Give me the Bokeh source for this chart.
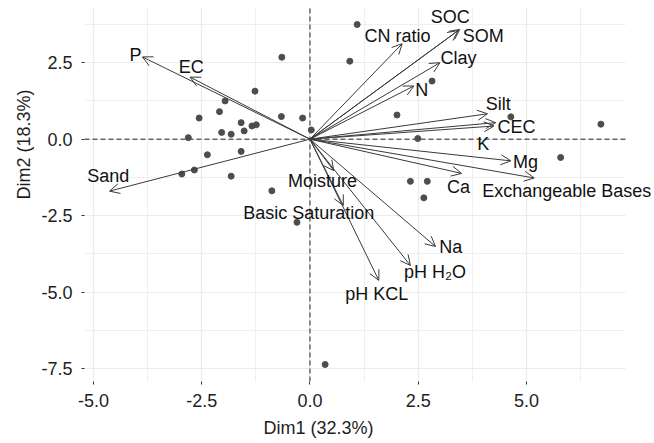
from bokeh.plotting import figure
from bokeh.models import (ColumnDataSource, Range1d, FixedTicker, Arrow, OpenHead,
                          LabelSet, Title, NumeralTickFormatter, Grid)
from bokeh.core.properties import value
from bokeh.embed import file_html
from bokeh.resources import INLINE

# ---- data ----
ind_x = [-0.65, -1.27, -1.96, -2.09, -2.56, -0.66, -0.17, -1.59, -1.34, -1.24, -1.52, -2.04,
         -1.82, -2.81, 0.03, -2.37, -1.59, -2.96, -2.67, -1.82, -0.88, -0.30, 0.35, 1.09,
         0.92, 2.82, 2.01, 4.64, 6.72, 2.49, 5.79, 2.32, 2.71, 2.63]
ind_y = [2.68, 1.57, 1.25, 0.90, 0.69, 0.74, 0.69, 0.54, 0.43, 0.47, 0.27, 0.22,
         0.16, 0.05, 0.30, -0.51, -0.40, -1.14, -1.01, -1.21, -1.69, -2.72, -7.37, 3.75,
         2.55, 1.90, 0.79, 0.73, 0.49, 0.02, -0.60, -1.38, -1.38, -1.92]

var_names = ["P", "EC", "Sand", "SOC", "SOM", "CN ratio", "Clay", "N", "Silt", "CEC", "K",
             "Mg", "Exchangeable Bases", "Ca", "Na", "pH H\u2082O", "pH KCL", "Moisture",
             "Basic Saturation"]
var_x = [-3.87, -2.77, -4.63, 3.46, 3.42, 2.13, 3.00, 2.40, 4.10, 4.29, 4.25,
         4.64, 5.18, 3.50, 2.90, 2.32, 1.59, 0.55, 0.77]
var_y = [2.69, 2.03, -1.70, 3.59, 3.55, 3.12, 2.50, 1.74, 0.83, 0.54, 0.43,
         -0.71, -1.27, -1.12, -3.51, -4.13, -4.62, -1.03, -2.17]
label_x = [-4.03, -2.74, -4.66, 3.24, 4.00, 2.02, 3.43, 2.58, 4.35, 4.77, 4.00,
           4.98, 5.93, 3.43, 3.25, 2.89, 1.54, 0.29, -0.03]
label_y = [2.76, 2.36, -1.22, 3.98, 3.37, 3.38, 2.65, 1.61, 1.15, 0.39, -0.15,
           -0.74, -1.68, -1.56, -3.54, -4.36, -5.08, -1.38, -2.43]

x_ticks = [-5.0, -2.5, 0.0, 2.5, 5.0]
x_minor = [-3.75, -1.25, 1.25, 3.75, 6.25]
y_ticks = [-7.5, -5.0, -2.5, 0.0, 2.5]
y_minor = [-6.25, -3.75, -1.25, 1.25, 3.75]
x_title = "Dim1 (32.3%)"
y_title = "Dim2 (18.3%)"

FONT = "Liberation Sans"
PANEL_X = (-5.208, 7.288)   # extent of the grid panel
PANEL_Y = (-7.926, 4.306)

p = figure(width=654, height=443, output_backend="svg", toolbar_location=None,
           x_range=Range1d(PANEL_X[0], 7.958), y_range=Range1d(*PANEL_Y),
           min_border_left=84, min_border_right=0, min_border_top=7, min_border_bottom=61)
p.outline_line_color = None
p.background_fill_color = "white"
p.border_fill_color = "white"

p.xaxis.ticker = FixedTicker(ticks=x_ticks, minor_ticks=x_minor)
p.yaxis.ticker = FixedTicker(ticks=y_ticks, minor_ticks=y_minor)
for ax in (p.xaxis, p.yaxis):
    ax.formatter = NumeralTickFormatter(format="0.0")
    ax.axis_line_color = None
    ax.major_tick_in = 0
    ax.major_tick_out = 3
    ax.major_tick_line_color = "#333333"
    ax.minor_tick_line_color = None
    ax.major_label_text_font = FONT
    ax.major_label_text_font_size = "18px"
    ax.major_label_text_color = "#1e1e1e"
p.xaxis.major_label_standoff = 8
p.yaxis.major_label_standoff = 8

for g in (p.xgrid, p.ygrid):
    g.grid_line_color = "#ebebeb"
    g.grid_line_width = 1.2
    g.minor_grid_line_color = "#ebebeb"
    g.minor_grid_line_width = 0.8
if "cross_bounds" in Grid.properties():
    p.ygrid.cross_bounds = PANEL_X

# dashed zero reference lines
p.line(x=list(PANEL_X), y=[0, 0], line_color="#222222", line_dash="5 3", line_width=1)
p.line(x=[0, 0], y=list(PANEL_Y), line_color="#222222", line_dash="5 3", line_width=1)

p.scatter(ind_x, ind_y, size=6, color="#4d4d4d", line_color="#4d4d4d")

arr_src = ColumnDataSource(dict(x0=[0.0] * len(var_x), y0=[0.0] * len(var_y),
                                x1=var_x, y1=var_y))
p.add_layout(Arrow(end=OpenHead(size=10, line_color="#3a3a3a", line_width=1),
                   x_start="x0", y_start="y0", x_end="x1", y_end="y1",
                   source=arr_src, line_color="#3a3a3a", line_width=1))

lab_src = ColumnDataSource(dict(x=label_x, y=label_y, t=var_names))
p.add_layout(LabelSet(x="x", y="y", text="t", source=lab_src, text_align="center",
                      text_baseline="middle", text_font=value(FONT),
                      text_font_size=value("18px"), text_color="#111111"))

p.add_layout(Title(text=x_title, align="left", offset=179, text_font=FONT,
                   text_font_size="18px", text_font_style="normal",
                   text_color="#1e1e1e", standoff=12), "below")
p.add_layout(Title(text=y_title, align="left", offset=182, text_font=FONT,
                   text_font_size="18px", text_font_style="normal",
                   text_color="#1e1e1e", standoff=10), "left")

open("out.html", "w").write(file_html(p, INLINE))
